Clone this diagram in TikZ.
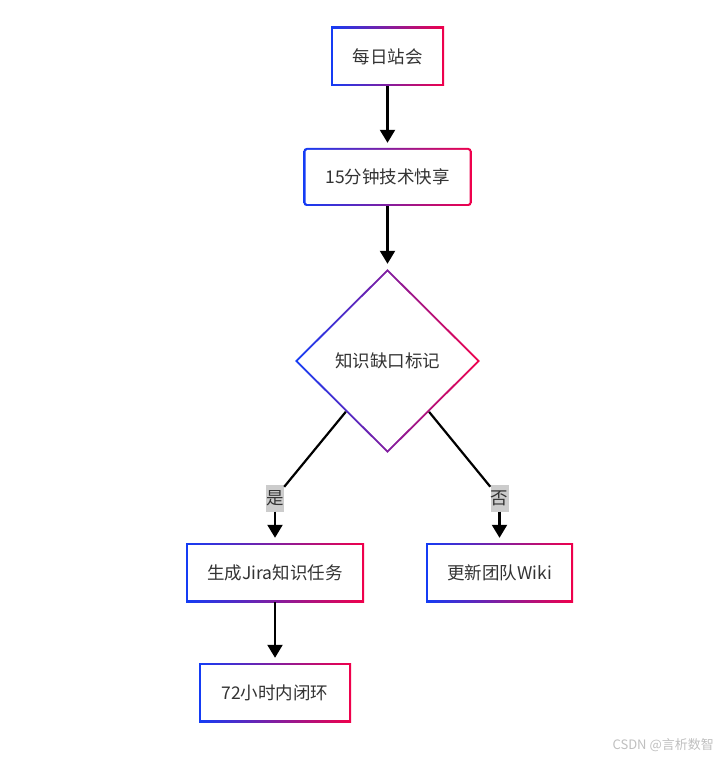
\documentclass[tikz,border=0pt]{standalone}
\usepackage{fontspec}
\usepackage{tikz}
\usepackage{xcolor}
\usetikzlibrary{shapes.geometric,arrows.meta}
\newfontfamily\cjk{Noto Sans CJK SC}
\definecolor{edgeblue}{RGB}{20,60,245}
\definecolor{edgered}{RGB}{240,0,75}
\definecolor{textgray}{RGB}{51,51,51}
\definecolor{labelgray}{RGB}{204,204,204}

\begin{document}
\begin{tikzpicture}[x=1pt, y=-1pt,
    box/.style={rectangle, left color=edgeblue, right color=edgered, text=textgray,
        font=\cjk\fontsize{17.5}{20}\selectfont, minimum height=59pt, inner sep=0pt,
        path picture={\fill[white] ([shift={(2pt,2pt)}]path picture bounding box.south west)
            rectangle ([shift={(-2pt,-2pt)}]path picture bounding box.north east);}},
    roundbox/.style={box, rounded corners=3pt, minimum height=58pt,
        path picture={\fill[white, rounded corners=1.5pt] ([shift={(2pt,2pt)}]path picture bounding box.south west)
            rectangle ([shift={(-2pt,-2pt)}]path picture bounding box.north east);}},
    decision/.style={diamond, minimum width=185pt, minimum height=184pt, inner sep=0pt,
        left color=edgeblue, right color=edgered, text=textgray, font=\cjk\fontsize{17.5}{20}\selectfont,
        path picture={\fill[white] ([yshift=-2.8pt]path picture bounding box.north)
            -- ([xshift=-2.8pt]path picture bounding box.east)
            -- ([yshift=2.8pt]path picture bounding box.south)
            -- ([xshift=2.8pt]path picture bounding box.west) -- cycle;}},
    answer/.style={fill=labelgray, text=textgray, font=\cjk\fontsize{17.5}{20}\selectfont,
        inner sep=0pt, minimum width=18pt, minimum height=27pt},
    flow/.style={line width=2.2pt, -{Triangle[width=15pt,length=13pt]}, shorten >=5pt},
    plain/.style={line width=2.2pt}]
    \useasboundingbox (0,0) rectangle (725,759);

    % Nodes
    \node[box, minimum width=113pt] (standup) at (387.5,56.5) {每日站会};
    \node[roundbox, minimum width=168pt] (share) at (387.5,177) {15分钟技术快享};
    \node[decision] (gap) at (387.5,361) {知识缺口标记};
    \node[box, minimum width=178pt] (jira) at (275,572.5) {生成Jira知识任务};
    \node[box, minimum width=147pt] (wiki) at (499.5,572.5) {更新团队Wiki};
    \node[box, minimum width=152pt] (close) at (275,692.5) {72小时内闭环};

    % Labels
    \node[answer] (yes) at (275,498) {是};
    \node[answer] (no) at (499.5,498) {否};

    % Arrows
    \draw[flow] (standup) -- (share);
    \draw[flow] (share) -- (gap);
    \draw[plain] (gap) -- (yes);
    \draw[flow] (yes) -- (jira);
    \draw[plain] (gap) -- (no);
    \draw[flow] (no) -- (wiki);
    \draw[flow] (jira) -- (close);

    % Watermark
    \node[anchor=east, text=gray!50, font=\cjk\fontsize{13}{15}\selectfont, inner sep=0pt] (mark) at (714,745) {CSDN @言析数智};
\end{tikzpicture}
\end{document}
